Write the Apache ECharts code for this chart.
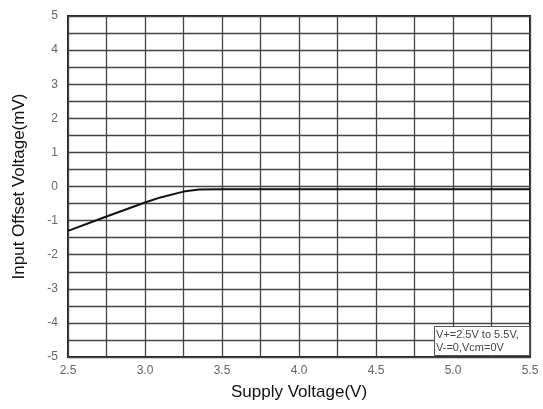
<!DOCTYPE html>
<html>
<head>
<meta charset="utf-8">
<script src="https://cdn.jsdelivr.net/npm/echarts@6/dist/echarts.min.js"></script>
<style>html,body{margin:0;padding:0;background:#fff}#c{width:543px;height:409px}</style>
</head>
<body>
<div id="c"></div>
<script>
const supplyVoltage = [2.5, 2.75, 3.0, 3.1, 3.25, 3.35, 3.5, 4.0, 4.5, 5.0, 5.5];
const offsetVoltage = [-1.30, -0.88, -0.47, -0.32, -0.15, -0.09, -0.08, -0.08, -0.08, -0.08, -0.08];
const xTitle = 'Supply Voltage(V)';
const yTitle = 'Input Offset Voltage(mV)';
const noteLines = ['V+=2.5V to 5.5V,', 'V-=0,Vcm=0V'];

const chart = echarts.init(document.getElementById('c'));
chart.setOption({
  animation: false,
  backgroundColor: '#fff',
  grid: { left: 68, right: 13, top: 16, bottom: 52, show: true, borderColor: '#222', borderWidth: 2, backgroundColor: 'transparent' },
  xAxis: {
    type: 'value', min: 2.5, max: 5.5, interval: 0.25,
    name: xTitle, nameLocation: 'middle', nameGap: 27,
    nameTextStyle: { fontFamily: 'Liberation Sans', fontSize: 17, color: '#111' },
    axisLine: { show: false }, axisTick: { show: false },
    axisLabel: { margin: 8, fontFamily: 'Liberation Sans', fontSize: 12, color: '#666',
      formatter: v => (Math.round(v * 100) % 50 === 0 ? v.toFixed(1) : '') },
    splitLine: { show: true, lineStyle: { color: '#444', width: 1.3 } }
  },
  yAxis: {
    type: 'value', min: -5, max: 5, interval: 0.5,
    name: yTitle, nameLocation: 'middle', nameGap: 40,
    nameTextStyle: { fontFamily: 'Liberation Sans', fontSize: 17, color: '#111' },
    axisLine: { show: false }, axisTick: { show: false },
    axisLabel: { margin: 10, fontFamily: 'Liberation Sans', fontSize: 12, color: '#666',
      formatter: v => (Math.abs(v - Math.round(v)) < 1e-6 ? String(Math.round(v)) : '') },
    splitLine: { show: true, lineStyle: { color: '#444', width: 1.3 } }
  },
  series: [{
    type: 'line', data: supplyVoltage.map((x, i) => [x, offsetVoltage[i]]),
    showSymbol: false, smooth: false, z: 5,
    lineStyle: { color: '#111', width: 2 }
  }],
  graphic: [
    { type: 'rect', left: 434, top: 326, z: 100, shape: { x: 0, y: 0, width: 95, height: 29 },
      style: { fill: '#ffffff', stroke: '#555', lineWidth: 1 } },
    { type: 'text', left: 436, top: 328, z: 101,
      style: { text: noteLines.join('\n'), font: '11px "Liberation Sans"', fill: '#444', lineHeight: 13 } }
  ]
});
</script>
</body>
</html>
